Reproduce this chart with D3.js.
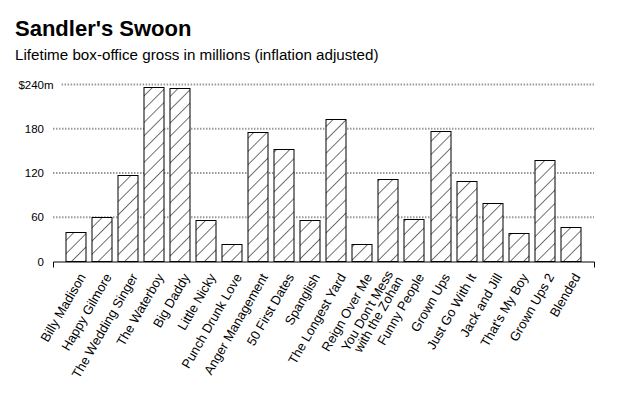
<!DOCTYPE html>
<html>
<head>
<meta charset="utf-8">
<script src="https://cdn.jsdelivr.net/npm/d3@7"></script>
<style>
  html, body { margin: 0; padding: 0; background: #fff; }
  svg { display: block; font-family: "Liberation Sans", Arial, Helvetica, sans-serif; }
</style>
</head>
<body>
<svg id="chart" width="630" height="400"></svg>
<script>
const titleText = "Sandler's Swoon";
const subtitleText = "Lifetime box-office gross in millions (inflation adjusted)";
const films = [
  "Billy Madison", "Happy Gilmore", "The Wedding Singer", "The Waterboy", "Big Daddy",
  "Little Nicky", "Punch Drunk Love", "Anger Management", "50 First Dates", "Spanglish",
  "The Longest Yard", "Reign Over Me", "You Don't Mess\nwith the Zohan", "Funny People", "Grown Ups",
  "Just Go With It", "Jack and Jill", "That's My Boy", "Grown Ups 2", "Blended"
];
const gross = [40, 59, 117, 236, 234, 55, 23, 175, 152, 55, 193, 23, 111, 57, 176, 109, 79, 38, 137, 46];
const yTicks = [0, 60, 120, 180, 240];

const svg = d3.select("#chart");

svg.append("text").attr("x", 15).attr("y", 35.5)
  .style("font-size", "22px").style("font-weight", "bold").attr("fill", "#000")
  .text(titleText);
svg.append("text").attr("x", 15).attr("y", 59.5)
  .style("font-size", "15.2px").attr("fill", "#000")
  .text(subtitleText);

const x = d3.scaleBand().domain(films).range([53, 594]).paddingInner(0.22).paddingOuter(0.5);
const y = d3.scaleLinear().domain([0, 240]).range([261.5, 84.5]);

// hatch pattern
const defs = svg.append("defs");
const pat = defs.append("pattern").attr("id", "hatch")
  .attr("patternUnits", "userSpaceOnUse").attr("width", 9.4).attr("height", 9.4)
  .attr("patternTransform", "rotate(45)");
pat.append("rect").attr("width", 9.4).attr("height", 9.4).attr("fill", "#fff");
pat.append("line").attr("x1", 0).attr("y1", 0).attr("x2", 0).attr("y2", 9.4)
  .attr("stroke", "#000").attr("stroke-width", 1.1);

// y labels + gridlines
const yg = svg.append("g");
yTicks.forEach(t => {
  const ty = y(t);
  yg.append("text").attr("x", 44).attr("y", ty).attr("dy", "0.35em")
    .attr("text-anchor", "end").style("font-size", "11.5px").attr("fill", "#000")
    .text(t === 240 ? "$" + t : t);
  let right = 44;
  if (t === 240) {
    const m = yg.append("text").attr("x", 44).attr("y", ty).attr("dy", "0.35em")
      .attr("text-anchor", "start").style("font-size", "11.5px").attr("fill", "#000").text("m");
    right = 44 + m.node().getComputedTextLength();
  }
  if (t > 0) {
    yg.append("line").attr("x1", Math.max(53, right + 8)).attr("x2", 594)
      .attr("y1", ty).attr("y2", ty)
      .attr("stroke", "#999").attr("stroke-width", 2).attr("stroke-dasharray", "1.5,1.5");
  }
});

// bars
svg.append("g").selectAll("rect").data(films).join("rect")
  .attr("x", d => Math.round(x(d)))
  .attr("width", Math.round(x.bandwidth()))
  .attr("y", (d, i) => Math.round(y(gross[i]) - 0.5) + 0.5)
  .attr("height", (d, i) => y(0) - (Math.round(y(gross[i]) - 0.5) + 0.5))
  .attr("fill", "url(#hatch)").attr("stroke", "#000").attr("stroke-width", 1);

// x axis
const xAxis = d3.axisBottom(x).tickSizeInner(0).tickSizeOuter(6).tickFormat("");
const ax = svg.append("g").attr("transform", `translate(0,${y(0)})`).call(xAxis);
ax.select(".domain").attr("stroke", "#000");

// x labels
const lg = svg.append("g");
films.forEach(f => {
  const cx = x(f) + x.bandwidth() / 2;
  const lines = f.split("\n");
  const t = lg.append("text")
    .attr("transform", `translate(${cx + 6},${y(0) + 13}) rotate(-60)`)
    .attr("text-anchor", "end").style("font-size", "13px").attr("fill", "#000");
  lines.forEach((ln, k) => {
    t.append("tspan").attr("x", 0)
      .attr("dy", k === 0 ? (0.35 - 0.45 * (lines.length - 1)) + "em" : "0.9em")
      .text(ln);
  });
});
</script>
</body>
</html>
